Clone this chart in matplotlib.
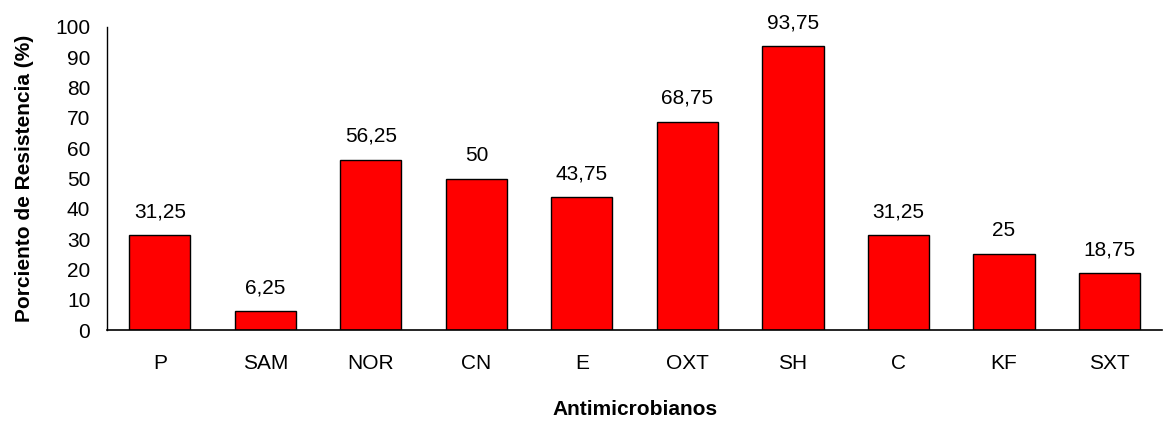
import matplotlib
matplotlib.use("Agg")
import matplotlib.pyplot as plt

categories = ["P", "SAM", "NOR", "CN", "E", "OXT", "SH", "C", "KF", "SXT"]
values = [31.25, 6.25, 56.25, 50, 43.75, 68.75, 93.75, 31.25, 25, 18.75]
labels = ["31,25", "6,25", "56,25", "50", "43,75", "68,75", "93,75", "31,25", "25", "18,75"]
yticks = [0, 10, 20, 30, 40, 50, 60, 70, 80, 90, 100]

plt.rcParams['font.family'] = ['Liberation Sans', 'DejaVu Sans']

fig = plt.figure(figsize=(11.66, 4.21), dpi=100)
ax = fig.add_axes([0.0918, 0.216, 0.905, 0.72])
x = range(len(categories))
bars = ax.bar(x, values, width=0.58, color="#ff0000", edgecolor="black", linewidth=1)
for xi, v, lab in zip(x, values, labels):
    ax.annotate(lab, (xi, v), xytext=(0, 10), textcoords="offset points",
                ha="center", va="bottom", fontsize=15)
ax.set_xlim(-0.5, len(categories) - 0.5)
ax.set_ylim(0, 100)
ax.set_yticks(yticks)
ax.set_xticks(list(x))
ax.set_xticklabels(categories)
ax.tick_params(axis="both", length=0, labelsize=15)
ax.tick_params(axis="x", pad=17)
ax.tick_params(axis="y", pad=12)
for s in ["top", "right"]:
    ax.spines[s].set_visible(False)
ax.spines["left"].set_linewidth(1)
ax.spines["bottom"].set_linewidth(1.2)
ax.set_ylabel("Porciento de Resistencia (%)", fontsize=15, fontweight="bold", labelpad=15)
ax.set_xlabel("Antimicrobianos", fontsize=15, fontweight="bold", labelpad=20)
fig.savefig("out.png", dpi=100)
